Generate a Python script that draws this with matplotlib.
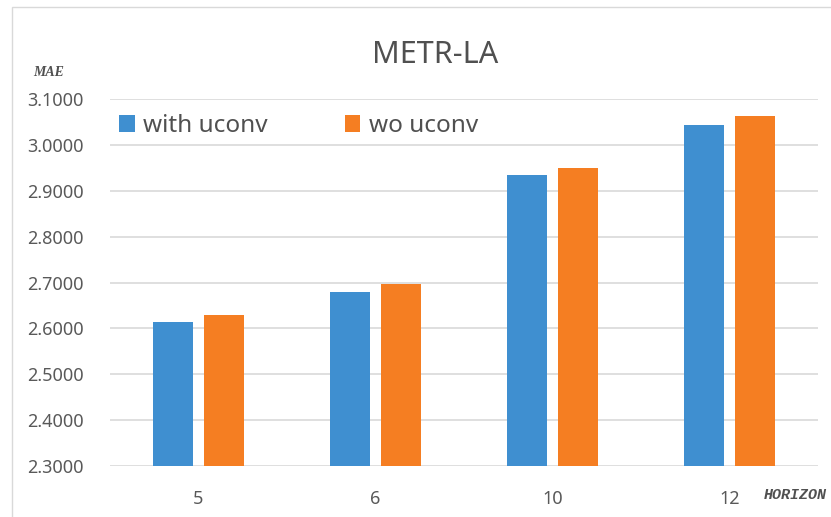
import matplotlib
matplotlib.use("Agg")
import matplotlib.pyplot as plt
import numpy as np
from matplotlib.patches import Rectangle

horizons = ["5", "6", "10", "12"]
with_uconv = [2.614, 2.679, 2.934, 3.043]
wo_uconv = [2.630, 2.697, 2.950, 3.064]
series_names = ["with uconv", "wo uconv"]
colors = ["#3f8fd0", "#f57e22"]
yticks = [2.3, 2.4, 2.5, 2.6, 2.7, 2.8, 2.9, 3.0, 3.1]

W, H = 831, 517
fig = plt.figure(figsize=(W / 100, H / 100), dpi=100)
plt.rcParams["font.family"] = ["Noto Sans", "DejaVu Sans"]

# light frame around the chart area
fig.patches.append(Rectangle((12 / W, -0.05), 1.1, 1 - 7 / H + 0.05,
                             transform=fig.transFigure, fill=False,
                             edgecolor="#d9d9d9", linewidth=1.0))

ax = fig.add_axes([110 / W, 1 - 466 / H, (818 - 110) / W, (466 - 99.3) / H])

x = np.arange(len(horizons))
bw = 0.225
gap = 0.06
off = (bw + gap) / 2
ax.bar(x - off, with_uconv, bw, color=colors[0], label=series_names[0], zorder=3)
ax.bar(x + off, wo_uconv, bw, color=colors[1], label=series_names[1], zorder=3)

ax.set_xlim(-0.5, len(horizons) - 0.5)
ax.set_ylim(2.3, 3.1)
ax.set_yticks(yticks)
ax.set_yticklabels([f"{v:.4f}" for v in yticks])
ax.set_xticks(x)
ax.set_xticklabels(horizons)
ax.tick_params(axis="both", length=0, labelsize=13, labelcolor="#595959")
ax.tick_params(axis="y", pad=19)
ax.tick_params(axis="x", pad=17)
ax.grid(axis="y", color="#d9d9d9", linewidth=1.2, zorder=0)
for s in ax.spines.values():
    s.set_visible(False)

fig.text(435 / W, 1 - 55 / H, "METR-LA", ha="center", va="center",
         fontsize=22, color="#505050")
fig.text(33 / W, 1 - 73 / H, "MAE", ha="left", va="center",
         fontsize=10, fontweight="bold", fontstyle="italic",
         family="Liberation Serif", color="#505050")
fig.text(764 / W, 1 - 495 / H, "HORIZON", ha="left", va="center",
         fontsize=10.8, fontweight="bold", fontstyle="italic",
         family="Liberation Mono", color="#505050")

leg = ax.legend(loc="center left", bbox_to_anchor=(107 / W, 1 - 126 / H),
                bbox_transform=fig.transFigure, ncol=2, frameon=False,
                fontsize=17.5, handlelength=0.65, handleheight=0.65,
                handletextpad=0.35, columnspacing=3.15, borderpad=0)
for t in leg.get_texts():
    t.set_color("#505050")

fig.savefig("out.png", dpi=100)
